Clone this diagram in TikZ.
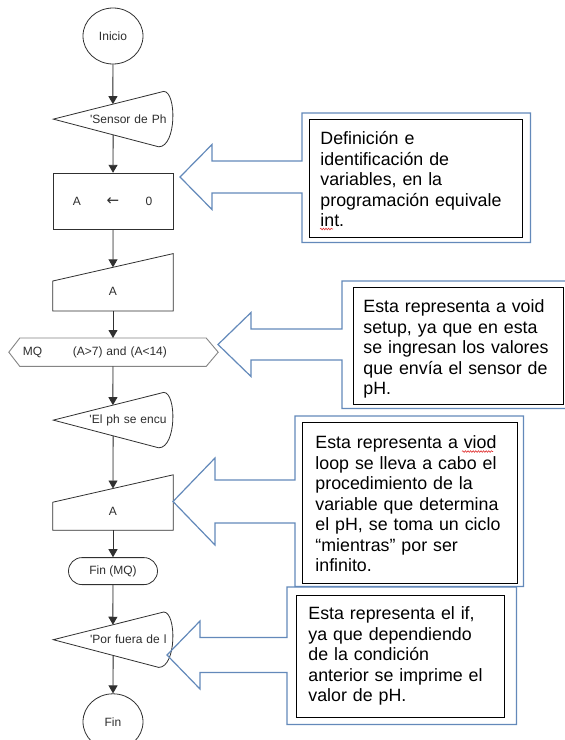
\documentclass[tikz,border=0pt]{standalone}
\usepackage{fontspec}
\setmainfont{Liberation Sans}
\newfontfamily\arrowfont{DejaVu Sans}
\usepackage{tikz}
\usetikzlibrary{shapes.geometric, arrows.meta, positioning, calc, decorations.pathmorphing}
\definecolor{flowline}{HTML}{303030}
\definecolor{flowtext}{HTML}{2E2E2E}
\definecolor{hexgray}{HTML}{858585}
\definecolor{calloutblue}{HTML}{6389BA}
\definecolor{spellred}{HTML}{E03030}
\newcommand{\flowfont}{\fontsize{12}{14}\selectfont}
\newcommand{\notefont}{\fontsize{17.8}{20.5}\selectfont}
\tikzstyle{startstop} = [ellipse, minimum width=60pt, minimum height=56pt, inner sep=0pt, draw=flowline, line width=0.8pt, text=flowtext, font=\flowfont]
\tikzstyle{process} = [rectangle, minimum width=120pt, minimum height=56pt, inner sep=0pt, draw=flowline, line width=0.8pt, text=flowtext, font=\flowfont]
\tikzstyle{displaybox} = [rectangle, minimum height=55pt, text width=107pt, inner xsep=6pt, align=right, text=flowtext, font=\flowfont]
\tikzstyle{inputbox} = [rectangle, minimum width=120pt, minimum height=57pt, text height=25.6pt, text=flowtext, font=\flowfont]
\tikzstyle{loopbox} = [rectangle, minimum height=28pt, text width=180pt, inner xsep=3pt, align=left, text=flowtext, font=\flowfont]
\tikzstyle{endloop} = [rectangle, rounded corners=13.5pt, minimum width=89pt, minimum height=27pt, draw=flowline, line width=0.8pt, text=flowtext, font=\flowfont]
\tikzstyle{shapeline} = [draw=flowline, line width=0.8pt]
\tikzstyle{hexline} = [draw=hexgray, line width=0.9pt]
\tikzstyle{arrow} = [line width=0.9pt, -{Triangle[width=9pt,length=8pt]}, draw=flowline, fill=flowline]
\tikzstyle{calloutbox} = [rectangle, anchor=north west, inner sep=0pt]
\tikzstyle{callout} = [draw=calloutblue, line width=1.2pt]
\tikzstyle{note} = [rectangle, anchor=north west, draw=black, line width=0.9pt, fill=white, inner ysep=0pt, align=left, text=black, font=\notefont]
\tikzstyle{spell} = [draw=spellred, line width=0.6pt, decorate, decoration={snake, amplitude=0.8pt, segment length=2.6pt}]

\begin{document}
\begin{tikzpicture}[x=1pt, y=1pt, node distance=26pt]
    % Page
    \path[use as bounding box, fill=white] (0,0) rectangle (565,-740);

    % Flowchart
    \node[startstop] (inicio) at (113,-36) {Inicio};
    \node[displaybox, below=27pt of inicio] (sensor) {\textquotesingle Sensor de Ph};
    \node[process, below=26pt of sensor] (assign) {\makebox[36pt]{A}\makebox[36pt]{\arrowfont\fontsize{15}{15}\selectfont ←}\makebox[36pt]{0}};
    \node[inputbox, below=24pt of assign] (input) {A};
    \node[loopbox, below=27pt of input] (mq) {MQ\hspace{30.5pt}(A>7) and (A<14)};
    \node[displaybox, below=26pt of mq] (msg) {\textquotesingle El ph se encu};
    \node[inputbox, minimum height=55pt, below=27pt of msg] (input2) {A};
    \node[endloop, below=27pt of input2] (finmq) {Fin (MQ)};
    \node[displaybox, below=27pt of finmq] (out) {\textquotesingle Por fuera de l};
    \node[startstop, below=26pt of out] (fin) {Fin};

    % Outlines
    \draw[shapeline] (sensor.west) -- ([xshift=-9pt]sensor.north east) .. controls ([xshift=4pt]sensor.north east) and ([xshift=4pt]sensor.south east) .. ([xshift=-14pt]sensor.south east) -- cycle;
    \draw[shapeline] (msg.west) -- ([xshift=-9pt]msg.north east) .. controls ([xshift=4pt]msg.north east) and ([xshift=4pt]msg.south east) .. ([xshift=-14pt]msg.south east) -- cycle;
    \draw[shapeline] (out.west) -- ([xshift=-9pt]out.north east) .. controls ([xshift=4pt]out.north east) and ([xshift=4pt]out.south east) .. ([xshift=-14pt]out.south east) -- cycle;
    \draw[shapeline] ([yshift=30pt]input.south west) -- (input.north east) -- (input.south east) -- (input.south west) -- cycle;
    \draw[shapeline] ([yshift=28pt]input2.south west) -- (input2.north east) -- (input2.south east) -- (input2.south west) -- cycle;
    \draw[hexline] ([xshift=-11pt]mq.west) -- (mq.north west) -- (mq.north east) -- ([xshift=12pt]mq.east) -- (mq.south east) -- (mq.south west) -- cycle;

    % Entry and exit points
    \coordinate (sensor-in) at ($(sensor.west)!0.54!([xshift=-9pt]sensor.north east)$);
    \coordinate (sensor-out) at ($(sensor.west)!0.567!([xshift=-14pt]sensor.south east)$);
    \coordinate (msg-in) at ($(msg.west)!0.54!([xshift=-9pt]msg.north east)$);
    \coordinate (msg-out) at ($(msg.west)!0.567!([xshift=-14pt]msg.south east)$);
    \coordinate (out-in) at ($(out.west)!0.54!([xshift=-9pt]out.north east)$);
    \coordinate (out-out) at ($(out.west)!0.567!([xshift=-14pt]out.south east)$);
    \coordinate (input-in) at ($([yshift=30pt]input.south west)!0.5!(input.north east)$);
    \coordinate (input2-in) at ($([yshift=28pt]input2.south west)!0.5!(input2.north east)$);

    % Arrows
    \draw[arrow] (inicio) -- (sensor-in);
    \draw[arrow] (sensor-out) -- (assign);
    \draw[arrow] (assign) -- (input-in);
    \draw[arrow] (input) -- (mq);
    \draw[arrow] (mq) -- (msg-in);
    \draw[arrow] (msg-out) -- (input2-in);
    \draw[arrow] (input2) -- (finmq);
    \draw[arrow] (finmq) -- (out-in);
    \draw[arrow] (out-out) -- (fin);

    % Callouts
    \node[calloutbox, minimum width=228pt, minimum height=129pt] (box1) at (302,-113) {};
    \node[calloutbox, minimum width=228pt, minimum height=127pt] (box2) at (342,-281) {};
    \node[calloutbox, minimum width=228pt, minimum height=170pt] (box3) at (295,-416) {};
    \node[calloutbox, minimum width=229pt, minimum height=137pt] (box4) at (287,-587) {};
    \coordinate (tip1) at (180,-177);
    \coordinate (tip2) at (218,-344.5);
    \coordinate (tip3) at (173,-501.5);
    \coordinate (tip4) at (167,-655);
    \draw[callout] (tip1) -- ++(32,32.5) -- ++(0,-16.5) -| (box1.north west) -- (box1.north east) -- (box1.south east) -- (box1.south west) |- ($(tip1)+(32,-16)$) -- ++(0,-16.5) -- cycle;
    \draw[callout] (tip2) -- ++(33,32) -- ++(0,-16.5) -| (box2.north west) -- (box2.north east) -- (box2.south east) -- (box2.south west) |- ($(tip2)+(33,-15.5)$) -- ++(0,-16.5) -- cycle;
    \draw[callout] (tip3) -- ++(42,43.5) -- ++(0,-22) -| (box3.north west) -- (box3.north east) -- (box3.south east) -- (box3.south west) |- ($(tip3)+(42,-21.5)$) -- ++(0,-22) -- cycle;
    \draw[callout] (tip4) -- ++(33,34) -- ++(0,-16.5) -| (box4.north west) -- (box4.north east) -- (box4.south east) -- (box4.south west) |- ($(tip4)+(33,-17.5)$) -- ++(0,-16.5) -- cycle;

    % Notes
    \node[note, text width=191pt, inner xsep=11pt, text height=25.4pt, text depth=92.6pt] (note1) at (309,-119) {Definición e\\identificación de\\variables, en la\\programación equivale\\int.};
    \node[note, text width=190pt, inner xsep=10pt, text height=25.4pt, text depth=91.6pt] (note2) at (353,-287) {Esta representa a void\\setup, ya que en esta\\se ingresan los valores\\que envía el sensor de\\pH.};
    \node[note, text width=189pt, inner xsep=13pt, text height=26.4pt, text depth=134.6pt] (note3) at (302,-422) {Esta representa a viod\\loop se lleva a cabo el\\procedimiento de la\\variable que determina\\el pH, se toma un ciclo\\“mientras” por ser\\infinito.};
    \node[note, text width=184pt, inner xsep=12pt, text height=24.4pt, text depth=97.6pt] (note4) at (296,-595) {Esta representa el if,\\ya que dependiendo\\de la condición\\anterior se imprime el\\valor de pH.};
    \draw[spell] (320,-229) -- (333,-229);
    \draw[spell] (462,-451.5) -- (493,-451.5);
\end{tikzpicture}
\end{document}
